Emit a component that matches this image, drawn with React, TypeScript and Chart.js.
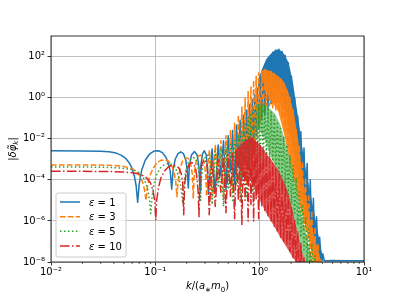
import React, { useEffect, useRef } from "react";
import { Chart, registerables } from "chart.js";

Chart.register(...registerables);

// ---------- axes / ticks ----------
const xTickValues = [0.01, 0.1, 1, 10];
const xTickLabels = ["10⁻²", "10⁻¹", "10⁰", "10¹"];
const xMinorSteps = [2, 3, 4, 5, 6, 7, 8, 9];
const yTickValues = [1e-8, 1e-6, 1e-4, 1e-2, 1, 1e2];
const yTickLabels = ["10⁻⁸", "10⁻⁶", "10⁻⁴", "10⁻²", "10⁰", "10²"];
const legendValues = ["1", "3", "5", "10"];

// ---------- data ----------
// shared k grid of the dense oscillating part (k >= 0.35)
const kDense = [0.35, 0.375, 0.4, 0.425, 0.45, 0.475, 0.5, 0.525, 0.55, 0.575, 0.6, 0.625, 0.65, 0.675, 0.7, 0.725, 0.75, 0.775, 0.8, 0.825, 0.85, 0.875, 0.9, 0.925, 0.95,
  0.977, 1.012, 1.047, 1.084, 1.122, 1.161, 1.202, 1.245, 1.288, 1.334, 1.38, 1.429, 1.479, 1.531, 1.585, 1.641, 1.698, 1.758, 1.82, 1.884, 1.95, 2.018, 2.089, 2.163, 2.239,
  2.317, 2.399, 2.483, 2.57, 2.661, 2.754, 2.851, 2.951, 3.055, 3.162, 3.273, 3.388, 3.508, 3.631, 3.758, 3.89, 4.027, 4.169];

// eps = 1
const kBlueLow = [0.01, 0.02, 0.03, 0.036, 0.042, 0.047, 0.052, 0.056, 0.06, 0.063, 0.0655, 0.0677, 0.07, 0.074, 0.08, 0.088, 0.097, 0.107, 0.117, 0.126, 0.134, 0.139, 0.1436, 0.148, 0.155, 0.165, 0.175, 0.186, 0.196, 0.202, 0.207, 0.212, 0.222, 0.237, 0.252, 0.262, 0.268, 0.273, 0.283, 0.295, 0.307, 0.316, 0.322];
const yBlueLow = [2.6e-3, 2.55e-3, 2.45e-3, 2.3e-3, 2.0e-3, 1.6e-3, 1.1e-3, 7e-4, 3.5e-4, 1.5e-4, 5e-5, 8e-6, 6e-5, 3e-4, 9e-4, 1.8e-3, 2.5e-3, 2.6e-3, 2.1e-3, 1.3e-3, 6e-4, 2.5e-4, 3.5e-5, 3e-4, 1e-3, 1.9e-3, 2.3e-3, 1.9e-3, 9e-4, 3e-4, 4e-5, 5e-4, 1.6e-3, 2.4e-3, 1.6e-3, 4e-4, 3e-5, 5e-4, 1.8e-3, 2.6e-3, 1.7e-3, 4e-4, 2e-5];
const yBlueDense = [3.2e-3, 2.5e-5, 5e-3, 1.6e-4, 7.9e-3, 3.2e-5, 1.4e-2, 2.5e-4, 2.5e-2, 6.3e-5,
  4.5e-2, 4e-4, 7.9e-2, 1e-4, 0.14, 1e-3, 0.25, 3.2e-4, 0.45, 3.2e-3,
  0.8, 1.6e-3, 1.4, 1.3e-2, 2.8, 3.2e-2, 6.3, 0.1, 20, 0.16,
  50, 0.32, 100, 0.5, 160, 0.63, 210, 0.63, 224, 0.63,
  178, 0.4, 112, 0.25, 50, 0.08, 11, 0.01, 1, 1e-3,
  0.126, 1.6e-4, 2.2e-2, 3.2e-5, 3.5e-3, 5e-6, 6.3e-4, 8e-7, 1e-4, 1.3e-7,
  1.26e-5, 1.6e-8, 1.6e-6, 1.15e-8, 1.6e-7, 1.15e-8, 2.5e-8, 1.15e-8];
const kBlueTail = [4.4, 5, 6.5, 8, 10];
const yBlueTail = [1.15e-8, 1.17e-8, 1.15e-8, 1.16e-8, 1.15e-8];
// filled band of eps = 1 (upper and lower edge)
const kBlueBand = [0.966, 1.054, 1.151, 1.259, 1.375, 1.51, 1.641, 1.754, 1.871, 1.955, 2.089, 2.234, 2.438, 2.606, 2.786, 3.041, 3.327, 3.631, 3.882, 4.102];
const yBlueBandTop = [7.1, 25, 71, 126, 190, 224, 178, 112, 56, 25, 5, 0.5, 0.025, 2e-3, 2.5e-4, 2.5e-5, 2.5e-6, 2.5e-7, 4e-8, 1.26e-8];
const yBlueBandLow = [2, 3.2, 4, 4, 3.2, 2, 1, 0.32, 6.3e-2, 2e-2, 3.2e-3, 5e-4, 3.2e-5, 6.3e-6, 1.26e-6, 1.6e-7, 2.5e-8, 1.12e-8, 1.12e-8, 1.12e-8];

// eps = 3
const kOrangeLow = [0.01, 0.02, 0.03, 0.04, 0.048, 0.055, 0.061, 0.067, 0.072, 0.076, 0.079, 0.0815, 0.084, 0.088, 0.095, 0.104, 0.114, 0.124, 0.134, 0.143, 0.151, 0.157, 0.161, 0.165, 0.172, 0.182, 0.195, 0.207, 0.218, 0.226, 0.231, 0.236, 0.245, 0.258, 0.272, 0.286, 0.298, 0.306, 0.31, 0.315, 0.33];
const yOrangeLow = [5.3e-4, 5.3e-4, 5.2e-4, 5.0e-4, 4.6e-4, 4.0e-4, 3.3e-4, 2.3e-4, 1.4e-4, 7e-5, 3e-5, 1e-5, 5e-5, 1.5e-4, 3.5e-4, 7e-4, 9e-4, 9.5e-4, 8e-4, 5e-4, 2.5e-4, 8e-5, 1.5e-5, 8e-5, 3.5e-4, 8e-4, 1.2e-3, 1.1e-3, 6e-4, 2e-4, 1.2e-5, 2e-4, 7e-4, 1.4e-3, 1.6e-3, 1.2e-3, 5e-4, 1e-4, 1.5e-5, 3e-4, 2.8e-3];
const yOrangeDense = [1.6e-5, 5e-3, 1e-4, 7.9e-3, 1.26e-5, 1.4e-2, 1.26e-4, 2.5e-2, 2.5e-5, 5.6e-2,
  2e-4, 0.14, 3.2e-5, 0.35, 3.2e-4, 1, 6.3e-5, 2, 1e-3, 3.5,
  2.5e-4, 7, 6.3e-3, 11, 1e-2, 16, 6.3e-2, 21, 0.2, 24,
  0.4, 22, 0.4, 19, 0.32, 15, 0.25, 11, 0.2, 8,
  0.1, 5, 2.5e-2, 2.2, 4e-3, 1, 6.3e-4, 0.25, 1e-4, 3.2e-2,
  1.6e-5, 5e-3, 2.5e-6, 8e-4, 4e-7, 1.26e-4, 6.3e-8, 2e-5, 1e-8, 3.2e-6,
  1e-9, 5e-7, 1e-9, 8e-8, 1e-9, 1.26e-8, 1e-9, 2.5e-9];
const kOrangeBand = [1.054, 1.151, 1.259, 1.375, 1.5, 1.641, 1.754, 1.871, 1.955, 2.046, 2.138, 2.234, 2.333, 2.438, 2.553, 2.667, 2.786, 2.911, 3.041, 3.177, 3.327, 3.475, 3.631, 3.793, 3.963];
const yOrangeBandTop = [22.4, 23, 20, 15, 11.2, 7.6, 4.5, 2, 1, 0.4, 0.16, 0.04, 0.01, 1.6e-3, 2.8e-4, 5e-5, 1.4e-5, 4e-6, 1.4e-6, 5e-7, 2e-7, 8e-8, 3.5e-8, 1.6e-8, 8e-9];
const yOrangeBandLow = [7.9, 2, 0.8, 0.45, 0.23, 0.04, 0.01, 2e-3, 6.3e-4, 2.5e-4, 1e-4, 4e-5, 1.4e-5, 5e-6, 2.2e-6, 1e-6, 4e-7, 1.6e-7, 7e-8, 2.5e-8, 8e-9, 6e-9, 6e-9, 6e-9, 6e-9];

// eps = 5
const kGreenLow = [0.01, 0.02, 0.03, 0.04, 0.05, 0.057, 0.064, 0.07, 0.076, 0.081, 0.085, 0.088, 0.0903, 0.093, 0.097, 0.103, 0.112, 0.122, 0.133, 0.145, 0.157, 0.167, 0.175, 0.18, 0.183, 0.187, 0.195, 0.207, 0.222, 0.236, 0.25, 0.26, 0.267, 0.271, 0.276, 0.287, 0.302, 0.32, 0.335];
const yGreenLow = [4.2e-4, 4.2e-4, 4.1e-4, 3.9e-4, 3.6e-4, 3.3e-4, 2.8e-4, 2.2e-4, 1.4e-4, 7e-5, 3e-5, 1e-5, 2.3e-6, 1.5e-5, 6e-5, 1.8e-4, 3.8e-4, 5.5e-4, 6.3e-4, 5.5e-4, 3.5e-4, 1.5e-4, 5e-5, 1.8e-5, 7e-6, 4e-5, 2.5e-4, 7e-4, 1.1e-3, 1.2e-3, 8e-4, 3e-4, 6e-5, 1e-5, 1e-4, 6e-4, 1.4e-3, 1.6e-3, 8e-4];
const yGreenDense = [6.3e-6, 2.5e-3, 5e-5, 3.2e-3, 5e-6, 4e-3, 4e-5, 6.3e-3, 1e-5, 1e-2,
  6.3e-5, 1.6e-2, 8e-6, 2.5e-2, 5e-5, 6.3e-2, 1.6e-5, 0.11, 1e-4, 0.18,
  2.5e-5, 0.26, 2e-4, 0.35, 1e-4, 0.45, 4e-4, 0.5, 1e-3, 0.45,
  1e-3, 0.32, 1e-3, 0.2, 8e-4, 0.126, 5e-4, 7e-2, 2.5e-4, 3.2e-2,
  1.26e-4, 1.26e-2, 5e-5, 5e-3, 2e-5, 1.6e-3, 6.3e-6, 5e-4, 2e-6, 1.26e-4,
  6.3e-7, 3.2e-5, 1.6e-7, 6.3e-6, 4e-8, 1.6e-6, 1e-8, 4e-7, 1e-9, 8e-8,
  1e-9, 2e-8, 1e-9, 4e-9];
const kGreenBand = [0.966, 1.054, 1.151, 1.259, 1.405, 1.57, 1.754, 1.955, 2.138, 2.286, 2.495, 2.723, 2.979, 3.251];
const yGreenBandTop = [0.45, 0.5, 0.4, 0.28, 0.16, 0.05, 7.9e-3, 1e-3, 1.26e-4, 2.5e-5, 2.5e-6, 3.2e-7, 5e-8, 9e-9];
const yGreenBandLow = [3.2e-2, 1.6e-2, 6.3e-3, 1.6e-3, 5e-4, 1.26e-4, 2.5e-5, 5e-6, 1e-6, 2.5e-7, 4e-8, 9e-9, 8e-9, 8e-9];

// eps = 10
const kRedLow = [0.01, 0.02, 0.03, 0.04, 0.05, 0.06, 0.068, 0.076, 0.083, 0.09, 0.095, 0.099, 0.101, 0.103, 0.107, 0.113, 0.122, 0.133, 0.145, 0.157, 0.168, 0.177, 0.183, 0.187, 0.191, 0.198, 0.21, 0.222, 0.234, 0.245, 0.253, 0.258, 0.262, 0.267, 0.277, 0.29, 0.303, 0.315, 0.323, 0.328];
const yRedLow = [2.6e-4, 2.6e-4, 2.55e-4, 2.5e-4, 2.4e-4, 2.2e-4, 2e-4, 1.6e-4, 1.2e-4, 7e-5, 3e-5, 8e-6, 1.1e-6, 1e-5, 4e-5, 1.2e-4, 2.6e-4, 4.2e-4, 5.2e-4, 5e-4, 3.8e-4, 2e-4, 7e-5, 2e-6, 6e-5, 2.5e-4, 5.5e-4, 7e-4, 6e-4, 3e-4, 8e-5, 2e-5, 1.6e-6, 1e-4, 5e-4, 9e-4, 9e-4, 4e-4, 6e-5, 2e-6];
const yRedDense = [8e-4, 5e-6, 1e-3, 2.5e-5, 1.26e-3, 2.5e-6, 1.6e-3, 1.6e-5, 2e-3, 1.26e-6,
  2.8e-3, 1e-5, 4e-3, 6.3e-7, 6.3e-3, 1e-5, 1e-2, 1e-6, 1.2e-2, 6.3e-6,
  1.1e-2, 1e-6, 9e-3, 1e-5, 7e-3, 1.26e-6, 5e-3, 5e-6, 3.2e-3, 3.2e-6,
  1.8e-3, 1.6e-6, 1e-3, 1e-6, 6.3e-4, 5e-7, 3.5e-4, 3.2e-7, 2e-4, 1.6e-7,
  1e-4, 1e-7, 4.5e-5, 6.3e-8, 1.6e-5, 3.2e-8, 4.5e-6, 1.6e-8, 1.26e-6, 6.3e-9,
  3.2e-7, 1e-9, 8e-8, 1e-9, 1.6e-8, 1e-9, 3.2e-9];
const kRedBand = [0.58, 0.68, 0.81, 0.883, 0.966, 1.054, 1.151, 1.285, 1.5, 1.675, 1.871, 2.089, 2.333, 2.606, 2.723];
const yRedBandTop = [2.5e-3, 6.3e-3, 1.1e-2, 9e-3, 6.3e-3, 4e-3, 2e-3, 1e-3, 3.2e-4, 1e-4, 2.5e-5, 2.5e-6, 2e-7, 2e-8, 8e-9];
const yRedBandLow = [6.3e-4, 3.2e-4, 1e-4, 4e-5, 1.6e-5, 6.3e-6, 2.5e-6, 1e-6, 2.5e-7, 1e-7, 4e-8, 1.6e-8, 8e-9, 8e-9, 8e-9];

// ---------- styles ----------
const COLORS = ["#1f77b4", "#ff7f0e", "#2ca02c", "#d62728"];
const BAND_FILLS = ["rgba(31,119,180,1)", "rgba(255,127,14,0.9)", "rgba(44,160,44,0.55)", "rgba(214,39,40,0.75)"];
const DASHES: number[][] = [[], [5.55, 2.4], [1.5, 2.475], [9.6, 2.4, 1.5, 2.4]];
const FONT = "DejaVu Sans";

function pts(k: number[], y: number[]) {
  return y.map((v, i) => ({ x: k[i], y: v }));
}

const lineData = [
  [...pts(kBlueLow, yBlueLow), ...pts(kDense, yBlueDense), ...pts(kBlueTail, yBlueTail)],
  [...pts(kOrangeLow, yOrangeLow), ...pts(kDense, yOrangeDense)],
  [...pts(kGreenLow, yGreenLow), ...pts(kDense, yGreenDense)],
  [...pts(kRedLow, yRedLow), ...pts(kDense, yRedDense)],
];
const bandData = [
  [pts(kBlueBand, yBlueBandTop), pts(kBlueBand, yBlueBandLow)],
  [pts(kOrangeBand, yOrangeBandTop), pts(kOrangeBand, yOrangeBandLow)],
  [pts(kGreenBand, yGreenBandTop), pts(kGreenBand, yGreenBandLow)],
  [pts(kRedBand, yRedBandTop), pts(kRedBand, yRedBandLow)],
];

type Piece = { t: string; it?: boolean; sub?: boolean };

function pieceFont(p: Piece) {
  const size = p.sub ? 7 : 10;
  return `${p.it ? "italic " : ""}${size}px "${FONT}"`;
}

function drawPieces(ctx: CanvasRenderingContext2D, pieces: Piece[], cx: number, baseline: number) {
  let total = 0;
  for (const p of pieces) {
    ctx.font = pieceFont(p);
    total += ctx.measureText(p.t).width;
  }
  let x = cx - total / 2;
  ctx.textAlign = "left";
  ctx.textBaseline = "alphabetic";
  for (const p of pieces) {
    ctx.font = pieceFont(p);
    ctx.fillText(p.t, x, baseline + (p.sub ? 2.5 : 0));
    x += ctx.measureText(p.t).width;
  }
}

const decorPlugin = {
  id: "decor",
  afterDatasetsDraw(chart: any) {
    const { ctx, chartArea: a, scales } = chart;
    ctx.save();
    // minor x ticks
    ctx.strokeStyle = "#000";
    ctx.lineWidth = 0.6;
    for (const d of xTickValues.slice(0, -1)) {
      for (const m of xMinorSteps) {
        const px = scales.x.getPixelForValue(d * m);
        ctx.beginPath();
        ctx.moveTo(px, a.bottom);
        ctx.lineTo(px, a.bottom + 2);
        ctx.stroke();
      }
    }
    // frame (spines)
    ctx.lineWidth = 0.8;
    ctx.strokeRect(a.left, a.top, a.right - a.left, a.bottom - a.top);

    // legend
    const lx = a.left + 5, lw = 70, lh = 64;
    const ly = a.bottom - 5 - lh;
    const r = 2;
    ctx.beginPath();
    ctx.moveTo(lx + r, ly);
    ctx.arcTo(lx + lw, ly, lx + lw, ly + lh, r);
    ctx.arcTo(lx + lw, ly + lh, lx, ly + lh, r);
    ctx.arcTo(lx, ly + lh, lx, ly, r);
    ctx.arcTo(lx, ly, lx + lw, ly, r);
    ctx.closePath();
    ctx.fillStyle = "rgba(255,255,255,0.8)";
    ctx.fill();
    ctx.strokeStyle = "#cccccc";
    ctx.lineWidth = 1;
    ctx.stroke();
    for (let i = 0; i < legendValues.length; i++) {
      const cy = ly + 9 + i * 14.67;
      ctx.save();
      ctx.strokeStyle = COLORS[i];
      ctx.lineWidth = 1.5;
      ctx.setLineDash(DASHES[i]);
      ctx.beginPath();
      ctx.moveTo(lx + 4, cy);
      ctx.lineTo(lx + 24, cy);
      ctx.stroke();
      ctx.restore();
      ctx.fillStyle = "#000";
      ctx.textAlign = "left";
      ctx.textBaseline = "alphabetic";
      ctx.font = `italic 10px "${FONT}"`;
      const tx = lx + 33;
      ctx.fillText("ε", tx, cy + 3.6);
      const w = ctx.measureText("ε").width;
      ctx.font = `10px "${FONT}"`;
      ctx.fillText(" = " + legendValues[i], tx + w, cy + 3.6);
    }
    ctx.restore();
  },
  afterDraw(chart: any) {
    const { ctx, chartArea: a } = chart;
    ctx.save();
    ctx.fillStyle = "#000";
    drawPieces(ctx, [
      { t: "k", it: true }, { t: "/(" }, { t: "a", it: true }, { t: "∗", sub: true },
      { t: "m", it: true }, { t: "0", sub: true }, { t: ")" },
    ], (a.left + a.right) / 2, 289);
    ctx.translate(12, (a.top + a.bottom) / 2);
    ctx.rotate(-Math.PI / 2);
    drawPieces(ctx, [
      { t: "|" }, { t: "δφ̃", it: true }, { t: "k", it: true, sub: true }, { t: "|" },
    ], 0, 3.5);
    ctx.restore();
  },
};

export default function App() {
  const ref = useRef<HTMLCanvasElement>(null);
  useEffect(() => {
    const datasets: any[] = [];
    for (let i = 0; i < 4; i++) {
      const base = {
        pointRadius: 0,
        pointHoverRadius: 0,
        tension: 0,
      };
      datasets.push({
        ...base,
        label: "band-top-" + i,
        data: bandData[i][0],
        borderColor: "rgba(0,0,0,0)",
        borderWidth: 0,
        backgroundColor: BAND_FILLS[i],
        fill: "+1",
        order: 8 - 2 * i,
      });
      datasets.push({
        ...base,
        label: "band-low-" + i,
        data: bandData[i][1],
        borderColor: "rgba(0,0,0,0)",
        borderWidth: 0,
        fill: false,
        order: 8 - 2 * i,
      });
      datasets.push({
        ...base,
        label: "ε = " + legendValues[i],
        data: lineData[i],
        borderColor: COLORS[i],
        backgroundColor: COLORS[i],
        borderWidth: 1.5,
        borderDash: DASHES[i],
        borderJoinStyle: "round",
        fill: false,
        spanGaps: true,
        order: 7 - 2 * i,
      });
    }
    const chart = new Chart(ref.current as HTMLCanvasElement, {
      type: "line",
      data: { datasets },
      options: {
        animation: false,
        responsive: false,
        devicePixelRatio: 1,
        events: [],
        layout: { padding: { left: 0, right: 41, top: 36, bottom: 0 } },
        plugins: { legend: { display: false }, tooltip: { enabled: false } },
        scales: {
          x: {
            type: "logarithmic",
            min: 0.01,
            max: 10,
            afterBuildTicks: (s: any) => { s.ticks = xTickValues.map((v) => ({ value: v })); },
            afterFit: (s: any) => { s.height = 38; },
            ticks: {
              callback: (_v: any, i: number) => xTickLabels[i],
              font: { family: FONT, size: 10 },
              color: "#000",
              padding: 1,
              maxRotation: 0,
              autoSkip: false,
            },
            grid: { color: "#b0b0b0", lineWidth: 0.8, tickColor: "#000", tickLength: 3.5, tickWidth: 0.8 },
            border: { display: false },
          },
          y: {
            type: "logarithmic",
            min: 1e-8,
            max: 1e3,
            afterBuildTicks: (s: any) => { s.ticks = yTickValues.map((v) => ({ value: v })); },
            afterFit: (s: any) => { s.width = 51; },
            ticks: {
              callback: (_v: any, i: number) => yTickLabels[i],
              font: { family: FONT, size: 10 },
              color: "#000",
              padding: 2.5,
              autoSkip: false,
            },
            grid: { color: "#b0b0b0", lineWidth: 0.8, tickColor: "#000", tickLength: 3.5, tickWidth: 0.8 },
            border: { display: false },
          },
        },
      } as any,
      plugins: [decorPlugin],
    });
    return () => chart.destroy();
  }, []);
  return (
    <div style={{ position: "fixed", left: 0, top: 0, width: 405, height: 300, background: "#fff" }}>
      <canvas ref={ref} width={405} height={300} style={{ display: "block", width: 405, height: 300 }} />
    </div>
  );
}
